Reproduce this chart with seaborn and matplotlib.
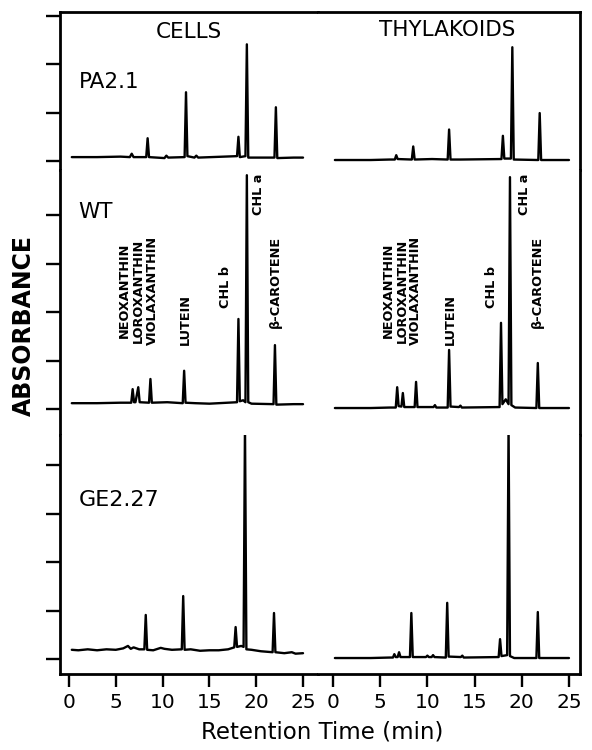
import seaborn as sns
import matplotlib.pyplot as plt
import pandas as pd
from matplotlib.ticker import MultipleLocator

# retention time (min) / absorbance (tick units)
pa_cells_t = [0.3, 3.0, 5.5, 6.5, 6.7, 6.9, 8.25, 8.4, 8.55, 10.2, 10.4, 10.6, 12.35, 12.5, 12.65,
              13.4, 13.6, 13.8, 17.95, 18.1, 18.25, 18.85, 19.0, 19.15, 21.95, 22.1, 22.25, 24.0, 25.0]
pa_cells_a = [0.08, 0.08, 0.09, 0.08, 0.15, 0.08, 0.08, 0.47, 0.08, 0.06, 0.11, 0.07, 0.08, 1.42, 0.1,
              0.07, 0.11, 0.07, 0.1, 0.5, 0.08, 0.1, 2.41, 0.07, 0.07, 1.11, 0.06, 0.07, 0.07]

pa_thyl_t = [0.2, 4.0, 6.0, 6.55, 6.7, 6.85, 8.35, 8.5, 8.65, 10.5, 12.15, 12.3, 12.45, 13.5,
             17.85, 18.0, 18.15, 18.85, 19.0, 19.15, 21.75, 21.9, 22.05, 25.0]
pa_thyl_a = [0.02, 0.02, 0.03, 0.03, 0.12, 0.04, 0.03, 0.30, 0.03, 0.04, 0.03, 0.65, 0.03, 0.03,
             0.04, 0.52, 0.05, 0.05, 2.35, 0.03, 0.02, 0.99, 0.02, 0.02]

wt_cells_t = [0.3, 3.0, 5.5, 6.0, 6.65, 6.8, 6.95, 7.1, 7.4, 7.55, 8.55, 8.7, 8.85, 10.5, 12.15, 12.3,
              12.45, 13.5, 15.0, 17.95, 18.1, 18.25, 18.6, 18.85, 19.0, 19.15, 19.5, 21.85, 22.0, 22.15,
              24.0, 25.0]
wt_cells_a = [0.12, 0.12, 0.13, 0.13, 0.13, 0.41, 0.14, 0.14, 0.45, 0.14, 0.13, 0.62, 0.13, 0.14, 0.12,
              0.79, 0.13, 0.12, 0.11, 0.14, 1.86, 0.16, 0.18, 0.14, 4.83, 0.14, 0.11, 0.10, 1.32, 0.09,
              0.10, 0.10]

wt_thyl_t = [0.2, 4.0, 6.0, 6.65, 6.8, 6.95, 7.25, 7.4, 7.55, 8.65, 8.8, 8.95, 10.65, 10.8, 10.95,
             12.15, 12.3, 12.45, 13.35, 13.5, 13.65, 17.65, 17.8, 17.95, 18.3, 18.6, 18.75, 18.9, 19.3,
             21.55, 21.7, 21.85, 25.0]
wt_thyl_a = [0.02, 0.02, 0.03, 0.03, 0.45, 0.06, 0.05, 0.33, 0.04, 0.04, 0.56, 0.04, 0.04, 0.08, 0.03,
             0.03, 1.22, 0.05, 0.04, 0.07, 0.03, 0.04, 1.78, 0.10, 0.2, 0.1, 4.79, 0.08, 0.03,
             0.02, 0.95, 0.02, 0.02]

ge_cells_t = [0.3, 1.0, 2.0, 3.0, 4.0, 5.0, 5.8, 6.3, 6.6, 6.9, 7.5, 8.05, 8.2, 8.35, 9.0, 9.8, 10.2,
              11.0, 12.05, 12.2, 12.35, 13.0, 14.0, 15.0, 16.0, 17.0, 17.65, 17.8, 17.95, 18.4, 18.65,
              18.8, 18.95, 19.5, 20.5, 21.75, 21.9, 22.05, 23.0, 23.8, 24.2, 25.0]
ge_cells_a = [0.19, 0.18, 0.20, 0.18, 0.20, 0.19, 0.22, 0.27, 0.21, 0.24, 0.20, 0.20, 0.91, 0.19, 0.18,
              0.23, 0.21, 0.19, 0.20, 1.30, 0.19, 0.20, 0.17, 0.18, 0.18, 0.20, 0.24, 0.66, 0.25, 0.27,
              0.25, 4.86, 0.20, 0.19, 0.16, 0.14, 0.95, 0.14, 0.12, 0.14, 0.11, 0.12]

ge_thyl_t = [0.2, 4.0, 6.0, 6.35, 6.5, 6.65, 6.85, 7.0, 7.15, 8.15, 8.3, 8.45, 9.85, 10.0, 10.15,
             10.45, 10.6, 10.75, 11.95, 12.1, 12.25, 13.55, 13.7, 13.85, 17.55, 17.7, 17.85, 18.45,
             18.6, 18.75, 19.2, 21.55, 21.7, 21.85, 25.0]
ge_thyl_a = [0.02, 0.02, 0.03, 0.03, 0.10, 0.04, 0.04, 0.14, 0.04, 0.04, 0.95, 0.04, 0.04, 0.07, 0.04,
             0.04, 0.08, 0.04, 0.03, 1.16, 0.05, 0.04, 0.07, 0.03, 0.04, 0.41, 0.06, 0.08,
             4.81, 0.06, 0.02, 0.02, 0.97, 0.02, 0.02]

strains = ["PA2.1", "WT", "GE2.27"]
columns = ["CELLS", "THYLAKOIDS"]
xticks = [0, 5, 10, 15, 20, 25]

traces = [[(pa_cells_t, pa_cells_a), (pa_thyl_t, pa_thyl_a)],
          [(wt_cells_t, wt_cells_a), (wt_thyl_t, wt_thyl_a)],
          [(ge_cells_t, ge_cells_a), (ge_thyl_t, ge_thyl_a)]]

# pigment labels: (text, time, bottom of label) for cells / thylakoids (WT row)
pigments_cells = [("NEOXANTHIN\nLOROXANTHIN\nVIOLAXANTHIN", 7.37, 1.32), ("LUTEIN", 12.4, 1.32),
                  ("CHL b", 16.7, 2.09), ("CHL a", 20.2, 4.0), ("β-CAROTENE", 22.1, 1.67)]
pigments_thyl = [("NEOXANTHIN\nLOROXANTHIN\nVIOLAXANTHIN", 7.3, 1.32), ("LUTEIN", 12.4, 1.32),
                 ("CHL b", 16.8, 2.09), ("CHL a", 20.3, 4.0), ("β-CAROTENE", 21.7, 1.67)]

sns.set_style("ticks")
plt.rcParams['font.family'] = ['DejaVu Sans']
plt.rcParams.update({"text.color": "black", "axes.edgecolor": "black",
                     "xtick.color": "black", "ytick.color": "black"})

ylims = [(-0.186, 3.078), (-0.537, 4.938), (-0.31, 4.628)]
xlims = [(-0.96, 26.6), (-1.59, 26.17)]

fig, axes = plt.subplots(3, 2, figsize=(5.92, 7.5), dpi=100,
                         gridspec_kw=dict(height_ratios=[a[1] - a[0] for a in ylims],
                                          width_ratios=[258, 262], hspace=0, wspace=0))
fig.subplots_adjust(left=60 / 592, right=580 / 592, top=1 - 12 / 750, bottom=1 - 674 / 750)

for r in range(3):
    for c in range(2):
        ax = axes[r, c]
        t, a = traces[r][c]
        df = pd.DataFrame({"t": t, "a": a})
        sns.lineplot(data=df, x="t", y="a", ax=ax, color="black", linewidth=1.7,
                     estimator=None, sort=False)
        ax.set_xlim(*xlims[c])
        ax.set_ylim(*ylims[r])
        ax.set_xlabel("")
        ax.set_ylabel("")
        for s in ax.spines.values():
            s.set_visible(False)
            s.set_linewidth(2.0)
            s.set_color("black")
        ax.spines["left"].set_visible(c == 0)
        ax.spines["right"].set_visible(c == 1)
        ax.spines["top"].set_visible(r == 0)
        ax.spines["bottom"].set_visible(r == 2)
        if c == 0:
            ax.yaxis.set_major_locator(MultipleLocator(1))
            ax.tick_params(axis="y", direction="out", length=10, width=1.7, labelleft=False)
        else:
            ax.set_yticks([])
        if r == 2:
            ax.set_xticks(xticks)
            ax.set_xticklabels([str(v) for v in xticks])
            ax.tick_params(axis="x", direction="out", length=9, width=1.7, pad=5, labelsize=14.5)
        else:
            ax.set_xticks([])

axes[0, 0].text(12.8, 2.67, columns[0], ha="center", va="center", fontsize=15.5)
axes[0, 1].text(12.1, 2.71, columns[1], ha="center", va="center", fontsize=15.5)

axes[0, 0].text(1.07, 1.63, strains[0], ha="left", va="center", fontsize=15.5)
axes[1, 0].text(1.0, 4.07, strains[1], ha="left", va="center", fontsize=15.5)
axes[2, 0].text(1.0, 3.29, strains[2], ha="left", va="center", fontsize=16)

for c, labels in enumerate([pigments_cells, pigments_thyl]):
    for txt, x, y in labels:
        axes[1, c].text(x, y, txt, rotation=90, ha="center", va="bottom", fontsize=9.3,
                        fontweight="bold", linespacing=1.1)

fig.text(24 / 592, 1 - 326 / 750, "ABSORBANCE", rotation=90, ha="center", va="center",
         fontsize=17, fontweight="bold")
fig.text(322 / 592, 1 - 732 / 750, "Retention Time (min)", ha="center", va="center", fontsize=16.5)

plt.savefig("out.png", dpi=100)
